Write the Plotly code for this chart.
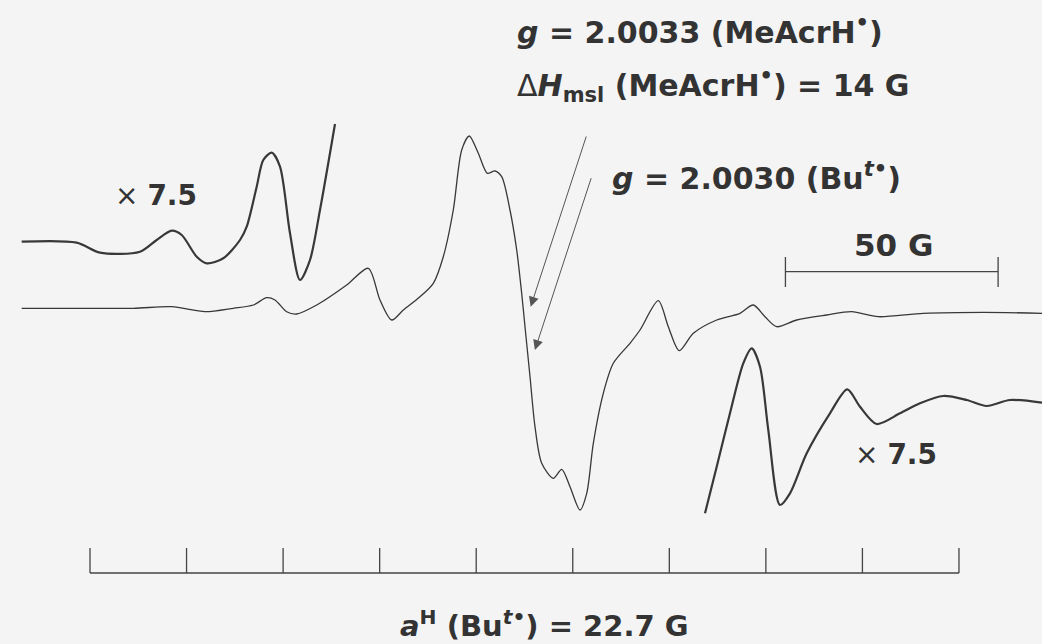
import plotly.graph_objects as go

# ---- traced data (field in G, amplitude in arbitrary units) ----
main_field = [-16.06, -5.48, 10.18, 19.21, 27.04, 33.69, 38.39, 41.54, 43.49, 46.24,
              48.59, 53.30, 60.35, 65.43, 68.18, 70.93, 73.66, 77.58, 80.71, 83.06,
              85.41, 87.39, 89.17, 91.29, 93.41, 95.21, 96.79, 98.74, 100.32, 101.49,
              102.27, 103.45, 104.62, 106.20, 108.92, 110.90, 112.85, 115.20, 116.78, 118.33,
              120.68, 123.03, 126.95, 129.31, 133.61, 135.96, 138.54, 141.84, 147.34, 152.81,
              155.94, 158.69, 161.44, 166.14, 173.20, 179.07, 185.33, 195.91, 210.02, 223.82]
main_signal = [2.7, 2.7, 2.7, 4.3, -0.7, 2.7, 6.0, 13.3, 11.0, -0.7,
               -3.0, 6.0, 26.0, 42.7, 11.0, -9.0, 1.0, 14.3, 27.7, 54.3,
               101.0, 161.0, 175.0, 157.7, 137.7, 140.0, 134.3, 101.0, 61.0, 17.7,
               -15.7, -65.7, -115.7, -152.3, -167.3, -158.3, -175.7, -199.0, -182.3, -132.3,
               -82.3, -52.3, -32.3, -19.0, 10.3, -15.7, -39.7, -22.3, -9.0, -2.3,
               6.0, -5.7, -15.7, -9.0, -4.0, -0.7, -5.7, -2.3, -1.3, -2.3]

low_field_x75 = [-16.06, -3.13, 2.35, 11.76, 15.68, 19.21, 21.56, 25.09, 27.44, 31.34,
                 35.27, 36.84, 39.19, 40.74, 42.72, 44.67, 47.02, 49.37, 51.72, 54.07, 57.60]
low_signal_x75 = [0.3, -0.7, -10.7, -9.7, 2.0, 11.3, 7.0, -14.7, -21.3, -16.3,
                  2.0, 15.3, 55.3, 82.0, 89.3, 75.3, 8.7, -38.0, -18.0, 32.0, 118.0]

high_field_x75 = [144.59, 147.34, 150.46, 153.59, 155.57, 157.52, 159.47, 162.22, 164.57, 168.50,
                  173.97, 178.04, 181.03, 184.95, 190.43, 195.13, 200.61, 206.11, 210.81, 216.29, 223.82]
high_signal_x75 = [-112.3, -65.7, -12.3, 37.7, 52.7, 34.3, -29.0, -104.0, -92.3, -52.3,
                   -12.3, 11.7, -5.7, -23.0, -12.3, -2.3, 5.0, 1.0, -5.0, 1.0, -1.7]

# hyperfine stick diagram of Bu^t radical
a_H = 22.7            # G
n_lines = 10
stick_center = 102.15  # G
scale_bar_G = 50

INK = "#383838"
BG = "#f4f4f4"

# offsets of the stacked traces
off_low = 69
off_high = -90

fig = go.Figure()

fig.add_trace(go.Scatter(x=main_field, y=main_signal, mode="lines",
                         line=dict(color=INK, width=1.3, shape="spline", smoothing=0.8),
                         hoverinfo="skip"))
fig.add_trace(go.Scatter(x=low_field_x75, y=[v + off_low for v in low_signal_x75], mode="lines",
                         line=dict(color=INK, width=2.2, shape="spline", smoothing=0.8),
                         hoverinfo="skip"))
fig.add_trace(go.Scatter(x=high_field_x75, y=[v + off_high for v in high_signal_x75], mode="lines",
                         line=dict(color=INK, width=2.2, shape="spline", smoothing=0.8),
                         hoverinfo="skip"))

# stick diagram
sticks = [stick_center + (k - (n_lines - 1) / 2) * a_H for k in range(n_lines)]
base_y, top_y = -262, -237
sx, sy = [sticks[0], sticks[-1], None], [base_y, base_y, None]
for s in sticks:
    sx += [s, s, None]
    sy += [base_y, top_y, None]
fig.add_trace(go.Scatter(x=sx, y=sy, mode="lines", line=dict(color="#444", width=1.3),
                         hoverinfo="skip"))

# 50 G scale bar
bar_x0 = 163.5
bx = [bar_x0, bar_x0 + scale_bar_G, None, bar_x0, bar_x0, None, bar_x0 + scale_bar_G, bar_x0 + scale_bar_G]
by = [39.3, 39.3, None, 24, 54, None, 24, 54]
fig.add_trace(go.Scatter(x=bx, y=by, mode="lines", line=dict(color="#444", width=1.3),
                         hoverinfo="skip"))

FONT = "DejaVu Sans"
def txt(x, y, s, size=30, xanchor="left"):
    fig.add_annotation(x=x, y=y, text=s, showarrow=False, xanchor=xanchor, yanchor="middle",
                       font=dict(family=FONT, size=size, color="#333"))

txt(99.9, 281, "<b><i>g</i> = 2.0033 (MeAcrH<sup>•</sup>)</b>")
txt(99.9, 226, "Δ<b><i>H</i></b><sub><b>msl</b></sub><b> (MeAcrH<sup>•</sup>) = 14 G</b>")
txt(122.3, 135, "<b><i>g</i> = 2.0030 (Bu<sup><i>t</i>•</sup>)</b>")
txt(5.4, 116, "× <b>7.5</b>", size=28)
txt(179.4, -143, "× <b>7.5</b>", size=28)
txt(189.0, 66, "<b>50 G</b>", size=31, xanchor="center")
txt(106.97, -313, "<b><i>a</i><sup>H</sup> (Bu<sup><i>t</i>•</sup>) = 22.7 G</b>", size=29, xanchor="center")

# arrows pointing at g-values
for tip, tail in [((103.6, 4.3), (116.78, 176.0)), ((104.6, -39.0), (117.94, 134.3))]:
    fig.add_annotation(x=tip[0], y=tip[1], ax=tail[0], ay=tail[1], axref="x", ayref="y",
                       text="", showarrow=True, arrowhead=2, arrowsize=2, arrowwidth=1,
                       arrowcolor="#555", standoff=0)

fig.update_layout(width=1042, height=644, margin=dict(l=0, r=0, t=0, b=0),
                  paper_bgcolor=BG, plot_bgcolor=BG, showlegend=False,
                  xaxis=dict(visible=False, range=[-21.16, 223.82], fixedrange=True),
                  yaxis=dict(visible=False, range=[-333, 311], fixedrange=True))

fig.write_html("out.html", config={"displayModeBar": False})
